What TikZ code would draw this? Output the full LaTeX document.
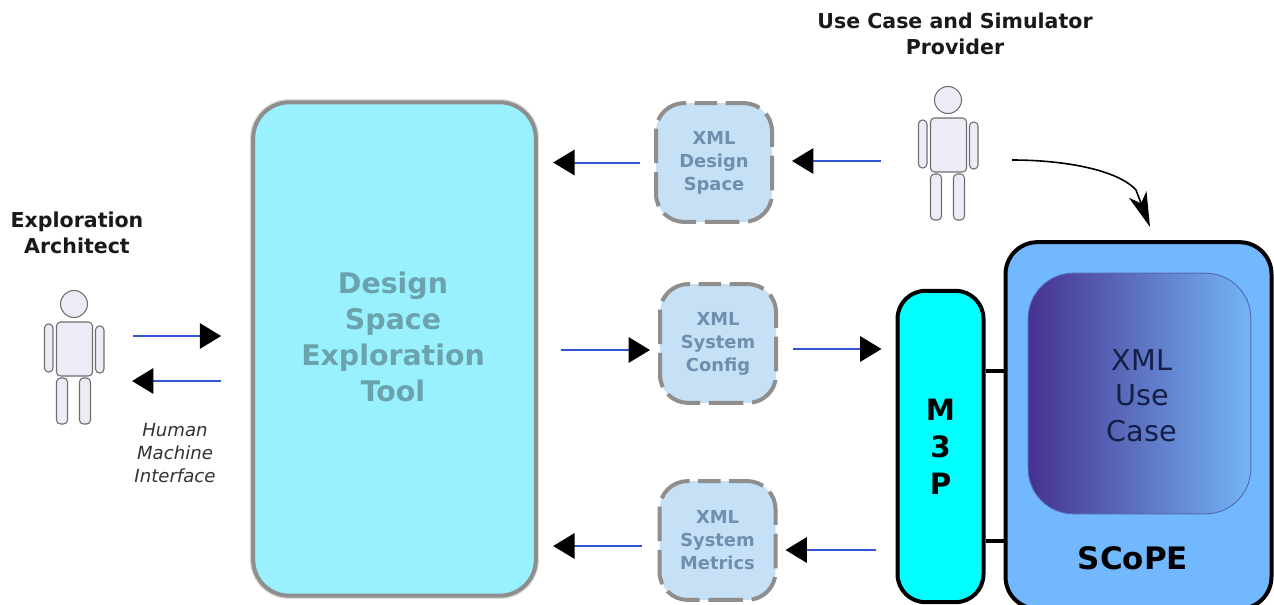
\documentclass[tikz,border=0pt]{standalone}
\usepackage{fontspec}
\setmainfont{DejaVu Sans}
\usetikzlibrary{arrows.meta,calc}
\definecolor{flowblue}{HTML}{3355D8}
\definecolor{toolfill}{HTML}{99F0FF}
\definecolor{tooltext}{HTML}{6BA3AD}
\definecolor{xmlfill}{HTML}{C6E0F5}
\definecolor{xmltext}{HTML}{6E8FAD}
\definecolor{xmledge}{HTML}{8E8E8E}
\definecolor{scopefill}{HTML}{72B8FF}
\definecolor{ucleft}{HTML}{46318F}
\definecolor{ucright}{HTML}{74B5F5}
\definecolor{uctext}{HTML}{141E46}
\definecolor{mfill}{HTML}{00FFFF}
\definecolor{personfill}{HTML}{ECECF6}
\definecolor{personedge}{HTML}{6E6E72}
\newcommand{\fs}[2]{\fontsize{#1}{#2}\selectfont}
\newcommand{\xmlborder}[1]{%
  \draw[xmlstroke] ([xshift=-13.9pt]#1.north) -- (#1.north east) -- (#1.south east)
    -- (#1.south west) -- (#1.north west) -- ([xshift=-13.9pt]#1.north);}
\tikzset{
  x=0.75pt,y=-0.75pt,
  flow/.style={draw=flowblue,line width=1.5pt,-{Triangle[length=16pt,width=19pt,fill=black,color=black]}},
  xmlbox/.style={fill=xmlfill,rounded corners=21pt,outer sep=0pt,minimum width=87pt,minimum height=89pt,
    align=center,inner sep=0pt,text=xmltext,font=\bfseries\fs{13.4}{17.25}},
  xmlstroke/.style={draw=xmledge,line width=3pt,rounded corners=21pt,
    dash pattern=on 26pt off 6.5pt,dash phase=9.8pt},
  actor/.style={align=center,font=\bfseries\fs{15.4}{19.5},inner sep=0pt,text=black!90},
  limb/.style={draw=personedge,fill=personfill,line width=0.8pt,rounded corners=3pt},
  link/.style={draw=black,line width=3pt},
  pics/person/.style={code={
    \draw[limb] (-29.5,20) rectangle (-21,68);
    \draw[limb] (21.5,22) rectangle (30,69);
    \draw[limb] (-17.5,74) rectangle (-6.5,120);
    \draw[limb] (5.5,74) rectangle (16.5,120);
    \draw[limb] (-17.5,18) rectangle (18.5,72);
    \draw[personedge,fill=personfill,line width=0.8pt] (0,0) circle (13.5);
  }}
}
\begin{document}
\begin{tikzpicture}
\useasboundingbox (0,0) rectangle (1274,604);
\fill[white] (0,0) rectangle (1274,604);

% Large tool box
\node (tool) at (394.5,349) [draw=xmledge,fill=toolfill,line width=3pt,rounded corners=27pt,
  preaction={draw=xmledge,draw opacity=.3,line width=5pt},
  minimum width=212pt,minimum height=370pt,inner sep=0pt] {};
\node (tooltxt) at (393,337) [align=center,inner sep=0pt,text=tooltext,font=\bfseries\fs{21.3}{27}]
  {Design\\Space\\Exploration\\Tool};

% XML boxes
\node[xmlbox] (dspace) at (714,162.5) {XML\\Design\\Space};
\node[xmlbox] (sconfig) at (718,343.5) {XML\\System\\Config};
\node[xmlbox] (smetrics) at (717.5,540.5) {XML\\System\\Metrics};
\xmlborder{dspace}
\xmlborder{sconfig}
\xmlborder{smetrics}

% SCoPE and M3P
\node (scope) at (1138.5,425.5) [draw=black,fill=scopefill,line width=3pt,rounded corners=24pt,
  minimum width=199.5pt,minimum height=275pt,inner sep=0pt] {};
\node (m3p) at (940.5,446.5) [draw=black,fill=mfill,line width=3pt,rounded corners=21pt,
  minimum width=64.5pt,minimum height=233.5pt,inner sep=0pt,align=center,font=\bfseries\fs{22}{27.7}]
  {M\\3\\P};
\node (usecase) at (1139.5,393.5) [draw=ucleft!60!ucright,left color=ucleft,right color=ucright,
  line width=0.7pt,rounded corners=34pt,minimum width=167pt,minimum height=180.5pt,
  inner sep=0pt] {};
\node (uctxt) at (1142,395.5) [inner sep=0pt,align=center,text=uctext,font=\fs{21.5}{26.6}]
  {XML\\Use\\Case};
\node (scopetxt) at (1133,558) [inner sep=0pt,font=\bfseries\fs{23.2}{27}] {SCoPE};

\draw[link] (m3p.east |- 0,371) -- (scope.west |- 0,371);
\draw[link] (m3p.east |- 0,541) -- (scope.west |- 0,541);

% People
\pic at (74,304) {person};
\pic at (948,100) {person};

% Labels
\node[actor] (archlabel) at (77,233) {Exploration\\Architect};
\node[actor] (provlabel) at (955,34) {Use Case and Simulator\\Provider};
\node (hmi) at (175,453) [align=center,inner sep=0pt,text=black!80,font=\itshape\fs{13.6}{17.2}]
  {Human\\Machine\\Interface};

% Free connector ends
\coordinate (a1) at (133,336);
\coordinate (a2) at (132,381);
\coordinate (p2out) at (881,161);
\coordinate (p2curve) at (1012,160);
\coordinate (headbase) at (1136,190);
\coordinate (scopein) at (1150,227);
\coordinate (y1) at (0,350);
\coordinate (y2) at (0,349);
\coordinate (y3) at (0,546);
\coordinate (y4) at (0,550);

% Connectors
\draw[flow,shorten >=22.5pt] (a1) -- (tool.west |- a1);
\draw[flow,shorten <=22.5pt] (tool.west |- a2) -- (a2);
\draw[flow,shorten <=12.25pt,shorten >=11.5pt] (dspace.west) -- (tool.east |- dspace.west);
\draw[flow,shorten >=15pt] (p2out) -- (dspace.east |- p2out);
\draw[flow,shorten <=17pt,shorten >=7.5pt] (tool.east |- y1) -- (sconfig.west |- y1);
\draw[flow,shorten <=13pt,shorten >=10.5pt] (sconfig.east |- y2) -- (m3p.west |- y2);
\draw[flow,shorten <=13.5pt,shorten >=11.5pt] (smetrics.west |- y3) -- (tool.east |- y3);
\draw[flow,shorten <=15pt,shorten >=7.5pt] (m3p.west |- y4) -- (smetrics.east |- y4);
\draw[black,line width=1.2pt,-{Stealth[length=26pt,width=14pt,inset=7pt]}]
  (p2curve) .. controls (1065,160) and (1118,170) .. (headbase) -- (scopein);
\end{tikzpicture}
\end{document}
